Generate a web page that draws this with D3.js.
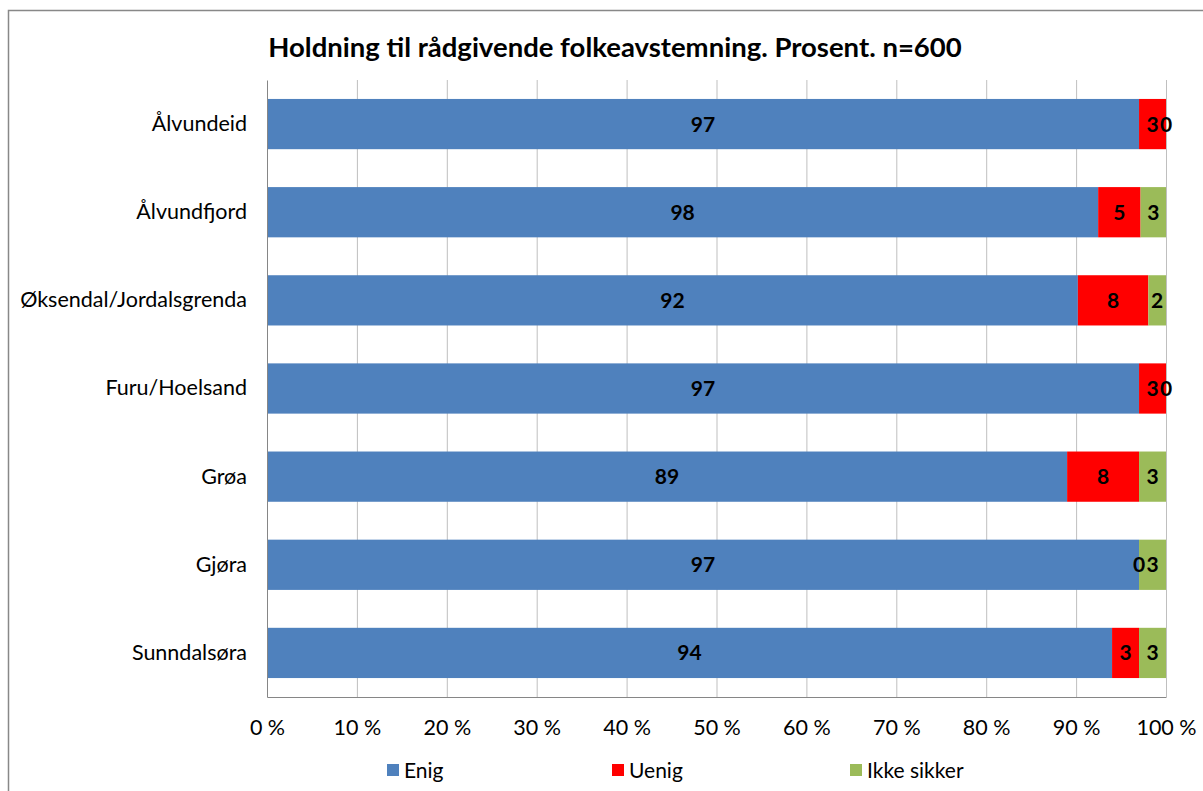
<!DOCTYPE html>
<html>
<head>
<meta charset="utf-8">
<script src="https://cdn.jsdelivr.net/npm/d3@7"></script>
<style>
  body { margin: 0; background: #fff; }
  svg { font-family: Lato, "Open Sans", sans-serif; }
  .axis path, .axis line { stroke: #868686; }
  .axis text { fill: #000; }
</style>
</head>
<body>
<script>
var categories = ["Ålvundeid", "Ålvundfjord", "Øksendal/Jordalsgrenda", "Furu/Hoelsand", "Grøa", "Gjøra", "Sunndalsøra"];
var enig = [97, 98, 92, 97, 89, 97, 94];
var uenig = [3, 5, 8, 3, 8, 0, 3];
var ikkeSikker = [0, 3, 2, 0, 3, 3, 3];
var seriesNames = ["Enig", "Uenig", "Ikke sikker"];
var seriesKeys = ["enig", "uenig", "ikke"];
var tickValues = [0, 0.1, 0.2, 0.3, 0.4, 0.5, 0.6, 0.7, 0.8, 0.9, 1];

var colors = ["#4f81bd", "#ff0000", "#9bbb59"];
var margin = {left: 267, top: 80, right: 37, bottom: 94};
var width = 1203, height = 791;
var plotW = 1166 - margin.left;
var plotH = 697 - margin.top;

var rows = categories.map(function(c, i){
	return {cat: c, enig: enig[i], uenig: uenig[i], ikke: ikkeSikker[i]};
});

var stack = d3.stack().keys(seriesKeys).offset(d3.stackOffsetExpand);
var layers = stack(rows);

var svg = d3.select("body").append("svg")
	.attr("width", width).attr("height", height);

// chart frame
svg.append("rect")
	.attr("x", 8.5).attr("y", 10.5)
	.attr("width", 1220).attr("height", 800)
	.attr("fill", "#fff").attr("stroke", "#888").attr("stroke-width", 1.5);

svg.append("text")
	.attr("x", 615).attr("y", 57)
	.attr("text-anchor", "middle")
	.attr("font-weight", "bold")
	.attr("font-size", "27.5px")
	.text("Holdning til rådgivende folkeavstemning. Prosent. n=600");

var x = d3.scaleLinear().domain([0, 1]).range([0, plotW]);
var y = d3.scaleBand().domain(categories).range([0, plotH]).paddingInner(0.43).paddingOuter(0.215);

var g = svg.append("g").attr("transform", "translate(" + margin.left + "," + margin.top + ")");

// gridlines
g.selectAll(".grid").data(tickValues.slice(1))
	.enter().append("line")
	.attr("class", "grid")
	.attr("x1", function(d){ return x(d) + 0.5; })
	.attr("x2", function(d){ return x(d) + 0.5; })
	.attr("y1", 0).attr("y2", plotH)
	.attr("stroke", "#bfbfbf").attr("stroke-width", 1);

var layer = g.selectAll(".layer").data(layers)
	.enter().append("g")
	.attr("class", "layer")
	.attr("fill", function(d, i){ return colors[i]; });

layer.selectAll("rect").data(function(d){ return d; })
	.enter().append("rect")
	.attr("x", function(d){ return x(d[0]); })
	.attr("y", function(d){ return y(d.data.cat); })
	.attr("width", function(d){ return x(d[1]) - x(d[0]); })
	.attr("height", y.bandwidth());

// data labels
layers.forEach(function(l){
	g.selectAll(".lbl-" + l.key).data(l)
		.enter().append("text")
		.attr("class", "lbl-" + l.key)
		.attr("x", function(d){ return x((d[0] + d[1]) / 2); })
		.attr("y", function(d){ return y(d.data.cat) + y.bandwidth() / 2; })
		.attr("dy", "0.36em")
		.attr("text-anchor", "middle")
		.attr("font-weight", "bold")
		.attr("font-size", "21px")
		.attr("fill", "#000")
		.text(function(d){ return d.data[l.key]; });
});

var xAxis = d3.axisBottom(x).tickValues(tickValues).tickSize(0).tickPadding(23)
	.tickFormat(function(d){ return Math.round(d * 100) + " %"; });
var yAxis = d3.axisLeft(y).tickSize(0).tickPadding(20);

g.append("g").attr("class", "x axis")
	.attr("transform", "translate(0," + plotH + ")")
	.call(xAxis)
	.selectAll("text").attr("font-size", "21.5px").attr("font-family", "Lato, sans-serif");

g.append("g").attr("class", "y axis")
	.call(yAxis)
	.selectAll("text").attr("font-size", "21.5px").attr("font-family", "Lato, sans-serif");

// legend
var legendX = [387, 612, 850];
var legend = svg.selectAll(".legend").data(seriesNames)
	.enter().append("g")
	.attr("class", "legend")
	.attr("transform", function(d, i){ return "translate(" + legendX[i] + ",770)"; });

legend.append("rect")
	.attr("x", 0).attr("y", -6)
	.attr("width", 12).attr("height", 12)
	.attr("fill", function(d, i){ return colors[i]; });

legend.append("text")
	.attr("x", 17).attr("dy", "0.36em")
	.attr("font-size", "21px")
	.text(function(d){ return d; });
</script>
</body>
</html>
